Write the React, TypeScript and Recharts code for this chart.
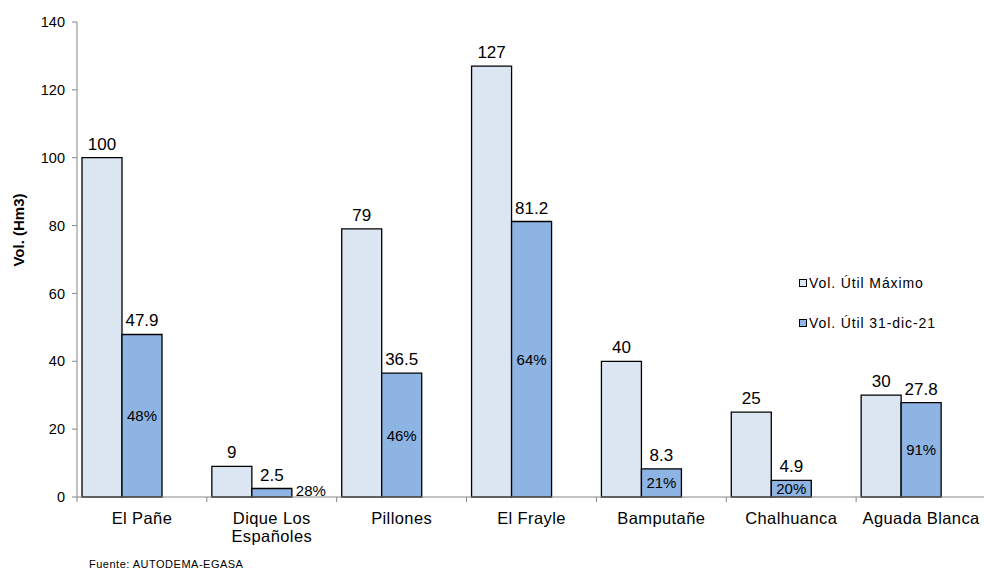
import { Bar, BarChart, LabelList, Legend, Text, XAxis, YAxis } from "recharts";

const embalses = ["El Pañe", "Dique Los Españoles", "Pillones", "El Frayle", "Bamputañe", "Chalhuanca", "Aguada Blanca"];
const volMaximo = [100, 9, 79, 127, 40, 25, 30];
const volActual = [47.9, 2.5, 36.5, 81.2, 8.3, 4.9, 27.8];
const porcentaje = ["48%", "28%", "46%", "64%", "21%", "20%", "91%"];
const yTicks = [0, 20, 40, 60, 80, 100, 120, 140];
const nombresSeries = ["Vol. Útil Máximo", "Vol. Útil 31-dic-21"];

const data = embalses.map((name, i) => ({
  name,
  maximo: volMaximo[i],
  actual: volActual[i],
  pct: porcentaje[i],
}));

const FONT = "'Liberation Sans', Arial, sans-serif";
const GRIS = "#868686";

function EmbalseTick(props: any) {
  const { x, y, payload } = props;
  const half = payload?.offset ?? 65;
  return (
    <g>
      <line x1={x - half} y1={y} x2={x - half} y2={y + 5} stroke={GRIS} strokeWidth={1} />
      <Text
        x={x}
        y={y + 15}
        width={128}
        textAnchor="middle"
        verticalAnchor="start"
        lineHeight={18}
        fontSize={16.5}
        letterSpacing={0.4}
        fill="#000"
        fontFamily={FONT}
      >
        {payload.value}
      </Text>
    </g>
  );
}

function PctLabel(props: any) {
  const { x, y, width, height, value } = props;
  if (height < 12) {
    return (
      <text x={x + width + 4} y={y + height - 1} fontSize={15} fill="#000" fontFamily={FONT}>
        {value}
      </text>
    );
  }
  return (
    <text
      x={x + width / 2}
      y={y + height / 2}
      textAnchor="middle"
      dominantBaseline="central"
      fontSize={15}
      fill="#000"
      fontFamily={FONT}
    >
      {value}
    </text>
  );
}

function Leyenda(props: any) {
  const items = (props.payload || [])
    .filter((p: any) => p.type !== "none" && nombresSeries.includes(p.value))
    .sort((a: any, b: any) => nombresSeries.indexOf(a.value) - nombresSeries.indexOf(b.value));
  return (
    <div style={{ fontFamily: FONT }}>
      {items.map((p: any) => (
        <div key={p.value} style={{ display: "flex", alignItems: "center", height: 20, marginBottom: 20 }}>
          <span
            style={{
              display: "inline-block",
              width: 6,
              height: 6,
              border: "1px solid #000",
              background: p.color,
              marginRight: 2,
            }}
          />
          <span style={{ fontSize: 14, letterSpacing: 0.9, color: "#000" }}>{p.value}</span>
        </div>
      ))}
    </div>
  );
}

export default function App() {
  return (
    <div
      style={{
        position: "absolute",
        left: 0,
        top: 0,
        width: 984,
        height: 571,
        overflow: "hidden",
        background: "#fff",
        fontFamily: FONT,
      }}
    >
      <BarChart
        width={986}
        height={571}
        data={data}
        margin={{ top: 22, right: 0, left: 0, bottom: 30 }}
        barCategoryGap={5}
        barGap={0}
      >
        <XAxis
          dataKey="name"
          height={44}
          interval={0}
          tickSize={0}
          tickMargin={0}
          tickLine={false}
          axisLine={{ stroke: GRIS }}
          tick={<EmbalseTick />}
        />
        <YAxis
          width={77}
          domain={[0, 140]}
          ticks={yTicks}
          interval={0}
          tickSize={5}
          tickMargin={7}
          axisLine={{ stroke: GRIS }}
          tickLine={{ stroke: GRIS }}
          tick={{ fill: "#000", fontSize: 14.5, fontFamily: FONT }}
          label={{
            content: (p: any) => {
              const vb = p.viewBox || { x: 0, y: 22 };
              const cx = vb.x + 18;
              const cy = vb.y + 208;
              return (
                <text
                  x={cx}
                  y={cy}
                  transform={`rotate(-90 ${cx} ${cy})`}
                  textAnchor="middle"
                  dominantBaseline="central"
                  fontWeight="bold"
                  fontSize={15}
                  fill="#000"
                  fontFamily={FONT}
                >
                  Vol. (Hm3)
                </text>
              );
            },
          }}
        />
        <Legend
          layout="vertical"
          align="center"
          verticalAlign="middle"
          content={<Leyenda />}
          wrapperStyle={{ left: 799, top: 273, width: 180 }}
        />
        <Bar dataKey="maximo" name={nombresSeries[0]} fill="#dce6f2" stroke="#000" strokeWidth={1.3} isAnimationActive={false}>
          <LabelList dataKey="maximo" position="top" offset={8} fontSize={17} fill="#000" fontFamily={FONT} />
        </Bar>
        <Bar dataKey="actual" name={nombresSeries[1]} fill="#8db4e2" stroke="#000" strokeWidth={1.3} isAnimationActive={false}>
          <LabelList dataKey="actual" position="top" offset={8} fontSize={17} fill="#000" fontFamily={FONT} />
          <LabelList dataKey="pct" content={<PctLabel />} />
        </Bar>
        <Bar dataKey={() => 0} fill="none" legendType="none" isAnimationActive={false} />
      </BarChart>
      <div
        style={{
          position: "absolute",
          left: 89,
          top: 558,
          fontSize: 11,
          letterSpacing: 0.5,
          color: "#000",
          fontFamily: FONT,
          whiteSpace: "nowrap",
        }}
      >
        Fuente: AUTODEMA-EGASA
      </div>
    </div>
  );
}
